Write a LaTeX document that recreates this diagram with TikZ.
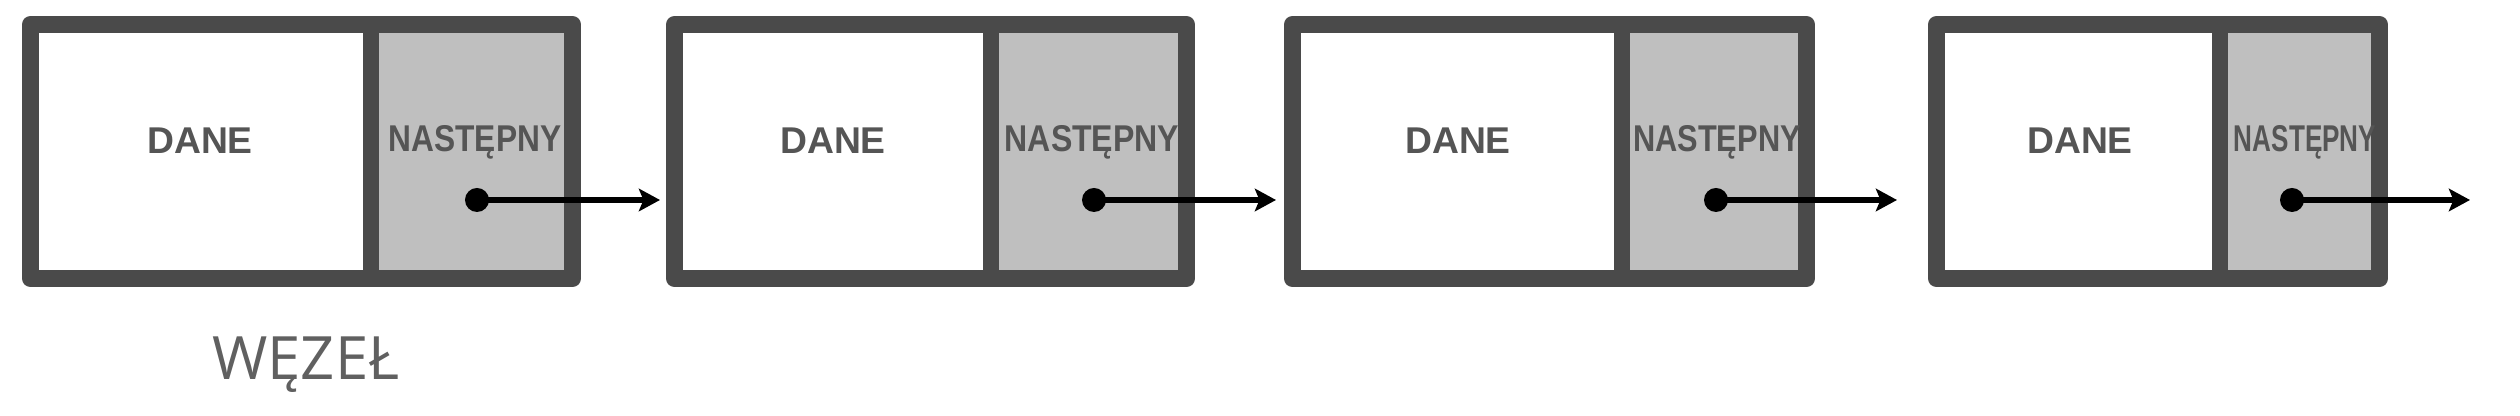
\documentclass[tikz,border=0pt]{standalone}
\usepackage{fontspec}
\setmainfont{Liberation Sans}
\newfontfamily\wezelfont{Open Sans}
\usetikzlibrary{arrows.meta}
\definecolor{kolramka}{HTML}{4A4A4A}
\definecolor{kolszary}{HTML}{BFBFBF}
\definecolor{kolnapis}{HTML}{555555}
\definecolor{kolwezel}{HTML}{606060}
\tikzset{
    ramka/.style={draw=kolramka, line width=4.8pt, line join=round, inner sep=0pt, outer sep=0pt, anchor=north west},
    pole/.style={fill=kolszary, inner sep=0pt, outer sep=0pt, anchor=north west},
    etykieta/.style={text=kolnapis, font=\bfseries\fontsize{10.6}{12}\selectfont, anchor=base, inner sep=0pt},
    kropka/.style={circle, fill=black, minimum size=0.24cm, inner sep=0pt},
    wskaznik/.style={line width=1.5pt, -{Stealth[length=6pt,width=6.4pt,inset=1.3pt]}},
}
\begin{document}
\begin{tikzpicture}[x=0.01cm,y=-0.01cm]
        \useasboundingbox (0,0) rectangle (2520,416);
        \foreach \n/\L/\D/\R/\P/\E/\dx/\nx/\s in {1/22/371/581/477/660/200/475/0.85,
                2/666/991/1195/1094/1276/833/1092/0.86,
                3/1284/1622/1815/1716/1897/1458/1717/0.825,
                4/1928/2220/2388/2292/2470/2080/2305/0.70} {
            %% pole NASTEPNY i ramka
            \node[pole, minimum width={(\R-17-\D)*0.01cm}, minimum height=2.37cm] (pole\n) at (\D,33) {};
            \node[ramka, minimum width={(\R-\L-17)*0.01cm}, minimum height=2.54cm] (wezel\n) at ({\L+8.5},24.5) {};
            \draw[kolramka, line width=4.8pt] (pole\n.north west) -- (pole\n.south west);
            %% napisy
            \node[etykieta] (dane\n) at (\dx,154) {DANE};
            \node[etykieta, xscale=\s] (nast\n) at (\nx,152) {NASTĘPNY};
            %% wskaznik
            \coordinate (koniec\n) at (\E,200);
            \node[kropka] (p\n) at (\P,200) {};
            \draw[wskaznik] (p\n.center) -- (koniec\n);
        }
        %% podpis
        \node[text=kolwezel, font=\wezelfont\fontsize{17}{20}\selectfont, anchor=base, inner sep=0pt] (podpis) at (306,380) {WĘZEŁ};
    \end{tikzpicture}
\end{document}
